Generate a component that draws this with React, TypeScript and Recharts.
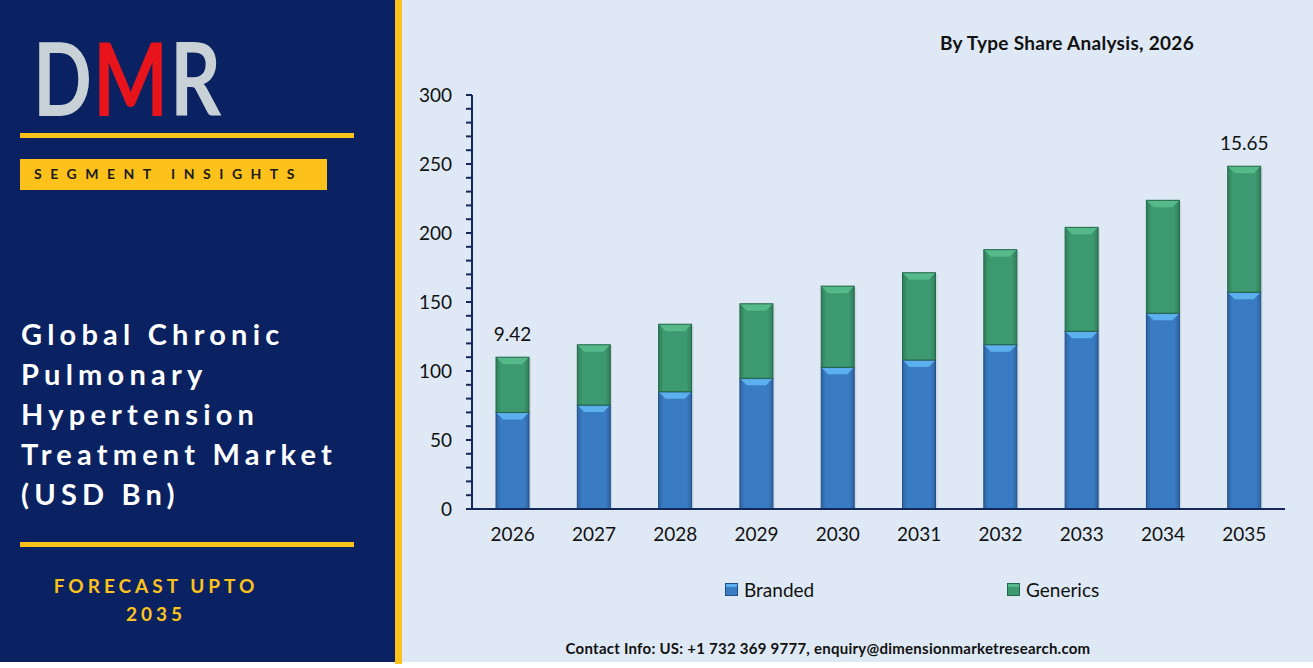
import React from 'react';
import { BarChart, Bar, XAxis, YAxis, Legend, LabelList } from 'recharts';

const years = ['2026', '2027', '2028', '2029', '2030', '2031', '2032', '2033', '2034', '2035'];
const branded = [70, 75.3, 85, 94.7, 102.7, 108, 119.1, 128.8, 141.9, 157.1];
const generics = [40, 43.7, 48.9, 54, 58.8, 63.2, 68.8, 75.3, 81.8, 91.3];
const topLabels = ['9.42', '', '', '', '', '', '', '', '', '15.65'];
const yTicks = [0, 10, 20, 30, 40, 50, 60, 70, 80, 90, 100, 110, 120, 130, 140, 150, 160, 170, 180, 190, 200, 210, 220, 230, 240, 250, 260, 270, 280, 290, 300];
const yTickLabels = [0, 50, 100, 150, 200, 250, 300];

const data = years.map((y, i) => ({ year: y, branded: branded[i], generics: generics[i], label: topLabels[i] }));

const FONT = 'Lato, "Noto Sans", sans-serif';
const NAVY = '#0b2262';
const YELLOW = '#fcc21b';

const palettes: Record<string, { main: string; light: string; dark: string; edge: string }> = {
  branded: { main: '#3a7cc3', light: '#5cb0ee', dark: '#2e64a3', edge: '#214f86' },
  generics: { main: '#3d9a70', light: '#55b98a', dark: '#2f7d59', edge: '#23684a' },
};

const makeShape = (key: string) => (props: any) => {
  const { x, y, width, height } = props;
  if (!height || height <= 0) return null;
  const p = palettes[key];
  const b = Math.min(7, height / 2);
  return (
    <g>
      <rect x={x + 2} y={y + 1} width={width} height={height} fill="rgba(0,0,0,0.08)" />
      <rect x={x} y={y} width={width} height={height} fill={`url(#grad-${key})`} />
      <polygon points={`${x},${y} ${x + width},${y} ${x + width - b},${y + b} ${x + b},${y + b}`} fill={p.light} />
      <rect x={x} y={y} width={width} height={height} fill="none" stroke={p.edge} strokeWidth={1} />
    </g>
  );
};

const LegendContent = () => (
  <div style={{ position: 'relative', width: 913, height: 30, fontFamily: FONT, fontSize: 19, color: '#111' }}>
    {[
      { name: 'Branded', key: 'branded', left: 325 },
      { name: 'Generics', key: 'generics', left: 607 },
    ].map((it) => (
      <div key={it.key} style={{ position: 'absolute', left: it.left, top: 0, display: 'flex', alignItems: 'center' }}>
        <div style={{ width: 11, height: 11, background: palettes[it.key].main, border: `1px solid ${palettes[it.key].edge}`, marginRight: 6, boxShadow: `inset 0 3px 0 ${palettes[it.key].light}` }} />
        <span>{it.name}</span>
      </div>
    ))}
  </div>
);

const TopLabel = (props: any) => {
  const { x, y, width, value } = props;
  if (!value) return null;
  return (
    <text x={x + width / 2} y={y - 16} textAnchor="middle" fontFamily={FONT} fontSize={19} fill="#111">
      {value}
    </text>
  );
};

const logoLetters = [
  { ch: 'D', x: 33, sx: 0.76, fill: '#c8d2d6' },
  { ch: 'M', x: 93, sx: 0.78, fill: '#e8141c' },
  { ch: 'R', x: 170, sx: 0.78, fill: '#c8d2d6' },
];

export default function App() {
  return (
    <div style={{ position: 'absolute', left: 0, top: 0, width: 1313, height: 668, background: '#ffffff', overflow: 'hidden' }}>
      {/* left panel */}
      <div style={{ position: 'absolute', left: 0, top: 0, width: 395, height: 662, background: NAVY }} />
      <div style={{ position: 'absolute', left: 395, top: 0, width: 7, height: 664, background: YELLOW }} />
      <div style={{ position: 'absolute', left: 402, top: 0, width: 911, height: 662, background: '#dfe9f5' }} />

      <svg style={{ position: 'absolute', left: 0, top: 0 }} width={395} height={150}>
        {logoLetters.map((l) => (
          <g key={l.ch} transform={`translate(${l.x},116) scale(${l.sx},1)`}>
            <text x={0} y={0} fontFamily={FONT} fontWeight={700} fontSize={102} fill={l.fill}>{l.ch}</text>
          </g>
        ))}
      </svg>
      <div style={{ position: 'absolute', left: 20, top: 133, width: 334, height: 5, background: YELLOW }} />
      <div style={{ position: 'absolute', left: 20, top: 159, width: 307, height: 31, background: YELLOW }} />
      <div style={{ position: 'absolute', left: 34, top: 165, fontFamily: FONT, fontWeight: 700, fontSize: 14, letterSpacing: 8.5, color: '#1a1a1a', whiteSpace: 'nowrap' }}>
        SEGMENT INSIGHTS
      </div>
      <div style={{ position: 'absolute', left: 21, top: 314, fontFamily: FONT, fontWeight: 700, fontSize: 29, letterSpacing: 5.2, lineHeight: '40px', color: '#ffffff', whiteSpace: 'nowrap' }}>
        <div>Global Chronic</div>
        <div>Pulmonary</div>
        <div>Hypertension</div>
        <div>Treatment Market</div>
        <div>(USD Bn)</div>
      </div>
      <div style={{ position: 'absolute', left: 20, top: 542, width: 334, height: 5, background: YELLOW }} />
      <div style={{ position: 'absolute', left: 0, top: 572, width: 312, textAlign: 'center', fontFamily: FONT, fontWeight: 700, fontSize: 19, letterSpacing: 4, lineHeight: '28px', color: YELLOW }}>
        <div>FORECAST UPTO</div>
        <div>2035</div>
      </div>

      {/* chart */}
      <div style={{ position: 'absolute', left: 902, top: 31, width: 330, textAlign: 'center', fontFamily: FONT, fontWeight: 700, fontSize: 19, letterSpacing: 0.3, color: '#111', whiteSpace: 'nowrap' }}>
        By Type Share Analysis, 2026
      </div>
      <div style={{ position: 'absolute', left: 400, top: 0 }}>
        <BarChart width={913} height={668} data={data} margin={{ top: 95, right: 28, left: 0, bottom: 99 }} barSize={33}>
          <defs>
            {Object.keys(palettes).map((k) => (
              <linearGradient key={k} id={`grad-${k}`} x1="0" y1="0" x2="1" y2="0">
                <stop offset="0" stopColor={palettes[k].dark} />
                <stop offset="0.15" stopColor={palettes[k].main} />
                <stop offset="0.85" stopColor={palettes[k].main} />
                <stop offset="1" stopColor={palettes[k].dark} />
              </linearGradient>
            ))}
          </defs>
          <XAxis
            dataKey="year"
            axisLine={{ stroke: '#14285a', strokeWidth: 2 }}
            tickLine={false}
            tickSize={0}
            tickMargin={19}
            height={30}
            interval={0}
            tick={{ fontFamily: FONT, fontSize: 19, fill: '#111' }}
          />
          <YAxis
            domain={[0, 300]}
            ticks={yTicks}
            interval={0}
            width={72}
            axisLine={{ stroke: '#14285a', strokeWidth: 2 }}
            tickLine={{ stroke: '#14285a', strokeWidth: 2 }}
            tickSize={6}
            tickMargin={14}
            tickFormatter={(v: number) => (yTickLabels.includes(v) ? String(v) : '')}
            tick={{ fontFamily: FONT, fontSize: 19, fill: '#111' }}
          />
          <Legend verticalAlign="bottom" align="left" content={<LegendContent />} wrapperStyle={{ left: 0, top: 578, width: 913 }} />
          <Bar dataKey="branded" name="Branded" stackId="a" fill={palettes.branded.main} shape={makeShape('branded')} isAnimationActive={false} />
          <Bar dataKey="generics" name="Generics" stackId="a" fill={palettes.generics.main} shape={makeShape('generics')} isAnimationActive={false}>
            <LabelList dataKey="label" content={<TopLabel />} />
          </Bar>
        </BarChart>
      </div>
      <div style={{ position: 'absolute', left: 828, top: 639, transform: 'translateX(-50%)', fontFamily: FONT, fontWeight: 700, fontSize: 15, letterSpacing: 0.25, color: '#111', whiteSpace: 'nowrap' }}>
        Contact Info: US: +1 732 369 9777, enquiry@dimensionmarketresearch.com
      </div>
    </div>
  );
}
